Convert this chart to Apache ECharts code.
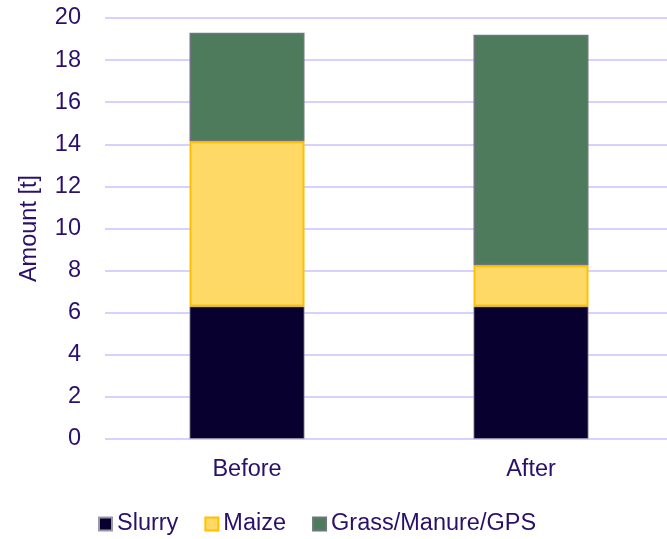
<!DOCTYPE html>
<html>
<head>
<meta charset="utf-8">
<script src="https://cdn.jsdelivr.net/npm/echarts@6/dist/echarts.min.js"></script>
<style>
  html, body { margin: 0; padding: 0; background: #fff; }
  #chart { width: 667px; height: 539px; }
</style>
</head>
<body>
<div id="chart"></div>
<script>
// data
var categories = ['Before', 'After'];
var slurry = [6.3, 6.3];
var maize = [7.85, 1.95];
var grass = [5.15, 10.95];

var textColor = '#2a0f6b';
var font = 'Liberation Sans, Arial, sans-serif';
var fs = 23.5;

var chart = echarts.init(document.getElementById('chart'));

chart.setOption({
  backgroundColor: '#ffffff',
  animation: false,
  textStyle: { fontFamily: font, color: textColor },
  grid: { left: 105, width: 568, top: 18, bottom: 100, outerBoundsMode: 'none' },
  legend: {
    left: 98,
    top: 512,
    padding: 0,
    itemWidth: 13,
    itemHeight: 13,
    itemGap: 26,
    icon: 'rect',
    textStyle: { fontSize: fs, color: textColor, fontFamily: font },
    data: ['Slurry', 'Maize', 'Grass/Manure/GPS']
  },
  xAxis: {
    type: 'category',
    data: categories,
    axisLine: { show: false },
    axisTick: { show: false },
    axisLabel: { fontSize: fs, color: textColor, margin: 19 }
  },
  yAxis: {
    type: 'value',
    min: 0,
    max: 20,
    interval: 2,
    name: 'Amount [t]',
    nameLocation: 'middle',
    nameGap: 63,
    nameTextStyle: { fontSize: fs, color: textColor },
    axisLine: { show: false },
    axisTick: { show: false },
    axisLabel: { fontSize: fs, color: textColor, margin: 24 },
    splitLine: { lineStyle: { color: '#c9c2ff', width: 1.5 } }
  },
  series: [
    {
      name: 'Slurry', type: 'bar', stack: 'total', barWidth: 115,
      data: slurry,
      itemStyle: { color: '#08002e', borderColor: '#9a98a8', borderWidth: 0.8 }
    },
    {
      name: 'Maize', type: 'bar', stack: 'total', barWidth: 115,
      data: maize,
      itemStyle: { color: '#ffd966', borderColor: '#ffc000', borderWidth: 2 }
    },
    {
      name: 'Grass/Manure/GPS', type: 'bar', stack: 'total', barWidth: 115,
      data: grass,
      itemStyle: { color: '#4e7b5b', borderColor: '#6e7480', borderWidth: 1.5 }
    }
  ]
});
</script>
</body>
</html>
